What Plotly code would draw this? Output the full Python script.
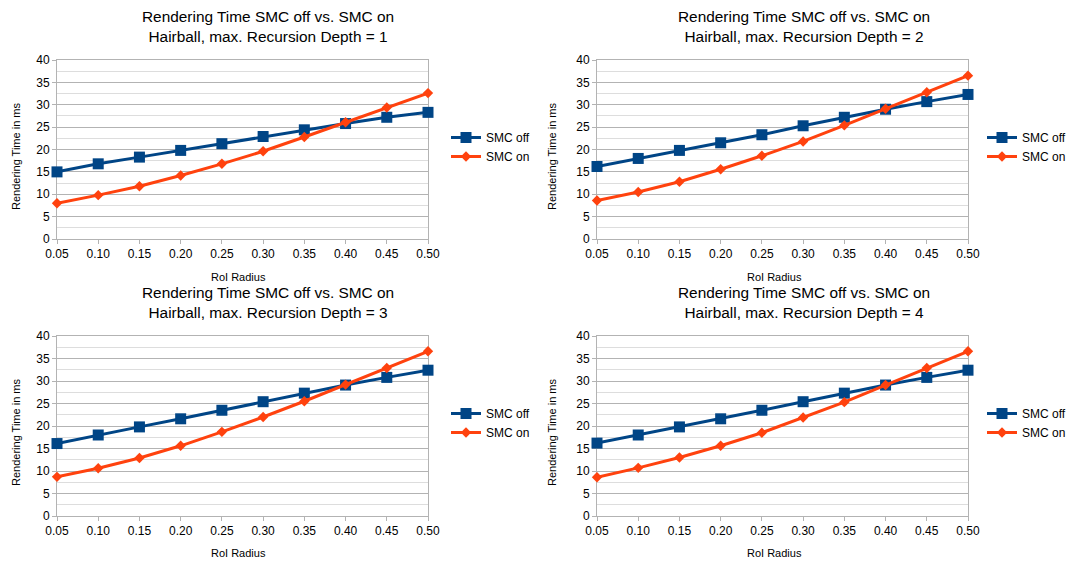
import plotly.graph_objects as go

# ---- data ----
x_radius = [0.05, 0.10, 0.15, 0.20, 0.25, 0.30, 0.35, 0.40, 0.45, 0.50]
x_labels = ["0.05", "0.10", "0.15", "0.20", "0.25", "0.30", "0.35", "0.40", "0.45", "0.50"]
y_ticks = [0, 5, 10, 15, 20, 25, 30, 35, 40]
depths = [1, 2, 3, 4]

smc_off_d1 = [15.0, 16.8, 18.3, 19.8, 21.3, 22.9, 24.4, 25.8, 27.2, 28.3]
smc_on_d1 = [8.0, 9.8, 11.8, 14.2, 16.8, 19.6, 22.8, 26.1, 29.4, 32.6]

smc_off_d2 = [16.2, 18.0, 19.8, 21.5, 23.3, 25.3, 27.2, 29.0, 30.7, 32.3]
smc_on_d2 = [8.6, 10.5, 12.8, 15.6, 18.6, 21.8, 25.4, 29.1, 32.8, 36.5]

smc_off_d3 = [16.1, 18.0, 19.8, 21.6, 23.5, 25.4, 27.3, 29.1, 30.8, 32.4]
smc_on_d3 = [8.7, 10.6, 12.9, 15.6, 18.7, 22.0, 25.5, 29.2, 32.9, 36.6]

smc_off_d4 = [16.2, 18.0, 19.8, 21.6, 23.5, 25.4, 27.3, 29.1, 30.8, 32.4]
smc_on_d4 = [8.6, 10.7, 13.0, 15.6, 18.5, 21.9, 25.3, 29.1, 32.9, 36.6]

series_names = ["SMC off", "SMC on"]
title_line1 = "Rendering Time SMC off vs. SMC on"
title_line2 = "Hairball, max. Recursion Depth = {}"
x_title = "RoI Radius"
y_title = "Rendering Time in ms"

off_series = [smc_off_d1, smc_off_d2, smc_off_d3, smc_off_d4]
on_series = [smc_on_d1, smc_on_d2, smc_on_d3, smc_on_d4]

# ---- styling / layout ----
W, H = 1072, 561
FONT = "Liberation Sans, Arial, sans-serif"
BLUE = "#004586"
ORANGE = "#ff420e"
GRID = "#b3b3b3"
MINOR = "#dddddd"

# plot frames in pixels: (left, right, top, bottom), and panel offsets
panels = [
    (57, 428, 60, 239, 0, 0),
    (597, 968, 60, 239, 536, 0),
    (57, 428, 336, 516, 0, 276),
    (597, 968, 336, 516, 536, 276),
]

def px_x(p):
    return p / W

def px_y(p):
    return 1 - p / H

fig = go.Figure()
layout = dict(
    width=W, height=H,
    margin=dict(l=0, r=0, t=0, b=0, autoexpand=False),
    paper_bgcolor="white", plot_bgcolor="white",
    font=dict(family=FONT, size=12, color="#000000"),
    showlegend=True,
)
annotations = []

for i, (l, r, t, b, ox, oy) in enumerate(panels):
    n = i + 1
    xa = "x" if n == 1 else f"x{n}"
    ya = "y" if n == 1 else f"y{n}"
    lg = "legend" if n == 1 else f"legend{n}"
    fig.add_trace(go.Scatter(
        x=x_radius, y=off_series[i], name=series_names[0], mode="lines+markers",
        xaxis=xa, yaxis=ya, legend=lg, cliponaxis=False,
        line=dict(color=BLUE, width=3),
        marker=dict(symbol="square", size=11, color=BLUE),
    ))
    fig.add_trace(go.Scatter(
        x=x_radius, y=on_series[i], name=series_names[1], mode="lines+markers",
        xaxis=xa, yaxis=ya, legend=lg, cliponaxis=False,
        line=dict(color=ORANGE, width=3),
        marker=dict(symbol="diamond", size=8, color=ORANGE),
    ))
    xkey = "xaxis" if n == 1 else f"xaxis{n}"
    ykey = "yaxis" if n == 1 else f"yaxis{n}"
    layout[xkey] = dict(
        domain=[px_x(l), px_x(r)], anchor=ya, automargin=False,
        range=[x_radius[0], x_radius[-1]], layer="below traces",
        tickmode="array", tickvals=x_radius, ticktext=x_labels,
        showgrid=False, zeroline=False,
        showline=True, mirror=True, linecolor=GRID, linewidth=1,
        ticks="outside", ticklen=4, tickcolor=GRID,
        tickfont=dict(family=FONT, size=12, color="#000000"),
        fixedrange=True,
    )
    layout[ykey] = dict(
        domain=[px_y(b), px_y(t)], anchor=xa, automargin=False,
        range=[y_ticks[0], y_ticks[-1]], layer="below traces",
        tickmode="array", tickvals=y_ticks,
        showgrid=True, gridcolor=GRID, gridwidth=1,
        zeroline=False,
        showline=True, mirror=True, linecolor=GRID, linewidth=1,
        ticks="outside", ticklen=4, tickcolor=GRID,
        tickfont=dict(family=FONT, size=12, color="#000000"),
        minor=dict(dtick=2.5, tick0=0, showgrid=True, gridcolor=MINOR, gridwidth=1, ticks=""),
        fixedrange=True,
    )
    layout[lg] = dict(
        x=px_x(ox + 446), y=px_y(oy + 147), xanchor="left", yanchor="middle",
        font=dict(family=FONT, size=12, color="#000000"),
        bgcolor="rgba(0,0,0,0)", borderwidth=0,
    )
    # chart title
    annotations.append(dict(
        text=title_line1 + "<br>" + title_line2.format(depths[i]),
        x=px_x(ox + 268), y=px_y(oy + 26), xref="paper", yref="paper",
        xanchor="center", yanchor="middle", showarrow=False,
        font=dict(family=FONT, size=15.4, color="#000000"),
    ))
    # x axis title
    annotations.append(dict(
        text=x_title, x=px_x(ox + 238), y=px_y(oy + 277), xref="paper", yref="paper",
        xanchor="center", yanchor="middle", showarrow=False,
        font=dict(family=FONT, size=11, color="#000000"),
    ))
    # y axis title
    annotations.append(dict(
        text=y_title, x=px_x(ox + 16), y=px_y(oy + 157), xref="paper", yref="paper",
        xanchor="center", yanchor="middle", showarrow=False, textangle=-90,
        font=dict(family=FONT, size=11, color="#000000"),
    ))

layout["annotations"] = annotations
fig.update_layout(**layout)
fig.write_html("out.html")
